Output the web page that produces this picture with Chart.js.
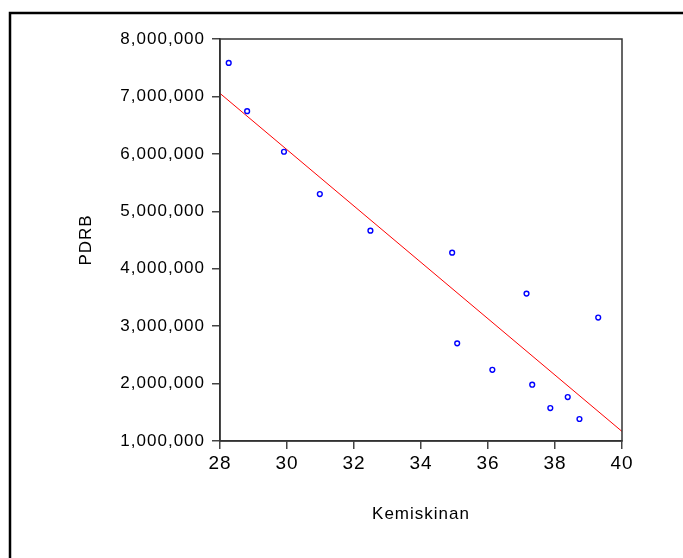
<!DOCTYPE html>
<html>
    <head>
        <title>PDRB vs Kemiskinan</title>
        <meta charset="UTF-8">
        <style>
            html, body { margin: 0; padding: 0; background: #fff; }
        </style>
    </head>
    <body>

        <canvas id="myChart" width="683" height="558"></canvas>

        <script src="https://cdn.jsdelivr.net/npm/chart.js@4"></script>
        <script>

            // observations: poverty rate (%) and regional GDP
            var kemiskinan = [28.26, 28.81, 29.91, 30.98, 32.49, 34.93, 35.08, 36.13,
                37.15, 37.32, 37.86, 38.38, 38.73, 39.29];
            var pdrb = [7584000, 6744000, 6037000, 5300000, 4663000, 4280000, 2700000, 2240000,
                3567000, 1980000, 1574000, 1765000, 1383000, 3150000];

            var xTicks = [28, 30, 32, 34, 36, 38, 40];
            var yTicks = [1000000, 2000000, 3000000, 4000000, 5000000, 6000000, 7000000, 8000000];

            // least squares fit line
            function fitLine(xs, ys) {
                var n = xs.length, mx = 0, my = 0;
                for (var i = 0; i < n; i++) { mx += xs[i]; my += ys[i]; }
                mx /= n; my /= n;
                var sxy = 0, sxx = 0;
                for (var i = 0; i < n; i++) {
                    sxy += (xs[i] - mx) * (ys[i] - my);
                    sxx += (xs[i] - mx) * (xs[i] - mx);
                }
                var b = sxy / sxx;
                return { a: my - b * mx, b: b };
            }

            var fit = fitLine(kemiskinan, pdrb);
            var xMin = xTicks[0], xMax = xTicks[xTicks.length - 1];

            var points = [];
            for (var i in kemiskinan) {
                points.push({ x: kemiskinan[i], y: pdrb[i] });
            }
            var fitPoints = [
                { x: xMin, y: fit.a + fit.b * xMin },
                { x: xMax, y: fit.a + fit.b * xMax }
            ];
//------------------------------------------------------------------------------
            // frame lines + box around the plot
            var framePlugin = {
                id: 'frame',
                beforeDraw: function (chart) {
                    var ctx = chart.ctx;
                    ctx.letterSpacing = '1px';
                    ctx.save();
                    ctx.strokeStyle = '#000';
                    ctx.lineWidth = 2.5;
                    ctx.beginPath();
                    ctx.moveTo(10, 560);
                    ctx.lineTo(10, 13);
                    ctx.lineTo(690, 13);
                    ctx.stroke();
                    ctx.restore();
                },
                afterDraw: function (chart) {
                    var ctx = chart.ctx, a = chart.chartArea;
                    ctx.save();
                    ctx.strokeStyle = '#333';
                    ctx.lineWidth = 1.5;
                    ctx.strokeRect(a.left, a.top, a.right - a.left, a.bottom - a.top);
                    ctx.restore();
                }
            };

            var font = { family: "'Liberation Sans', Arial, sans-serif", size: 17 };

            var ctx = document.getElementById("myChart");
            var myChart = new Chart(ctx, {
                type: 'scatter',
                data: {
                    datasets: [
                        {
                            data: points,
                            pointRadius: 2.4,
                            pointBorderWidth: 1.4,
                            pointBorderColor: '#0000ff',
                            pointBackgroundColor: '#ffffff',
                            showLine: false
                        },
                        {
                            type: 'line',
                            data: fitPoints,
                            borderColor: '#ff0000',
                            borderWidth: 1,
                            pointRadius: 0,
                            fill: false
                        }
                    ]
                },
                options: {
                    responsive: false,
                    animation: false,
                    layout: { padding: { left: 76, right: 61, top: 39, bottom: 32 } },
                    plugins: {
                        legend: { display: false },
                        tooltip: { enabled: false }
                    },
                    scales: {
                        x: {
                            type: 'linear',
                            min: xMin,
                            max: xMax,
                            afterFit: function (scale) { scale.height = 85; },
                            afterBuildTicks: function (scale) {
                                scale.ticks = xTicks.map(function (v) { return { value: v }; });
                            },
                            grid: { drawOnChartArea: false, tickLength: 8, color: '#444', lineWidth: 1.5 },
                            border: { display: true, color: '#333', width: 1.5 },
                            ticks: {
                                color: '#000',
                                padding: 3,
                                maxRotation: 0,
                                font: { family: font.family, size: 19 }
                            },
                            title: {
                                display: true,
                                text: 'Kemiskinan',
                                color: '#000',
                                font: font,
                                padding: { top: 0, bottom: 1.5 }
                            }
                        },
                        y: {
                            type: 'linear',
                            min: yTicks[0],
                            max: yTicks[yTicks.length - 1],
                            afterFit: function (scale) { scale.width = 144; },
                            afterBuildTicks: function (scale) {
                                scale.ticks = yTicks.map(function (v) { return { value: v }; });
                            },
                            grid: { drawOnChartArea: false, tickLength: 8, color: '#444', lineWidth: 1.5 },
                            border: { display: true, color: '#333', width: 1.5 },
                            ticks: {
                                color: '#000',
                                padding: 7,
                                font: font,
                                callback: function (v) { return v.toLocaleString('en-US'); }
                            },
                            title: {
                                display: true,
                                text: 'PDRB',
                                color: '#000',
                                font: font,
                                padding: { top: 0, bottom: 0 }
                            }
                        }
                    }
                },
                plugins: [framePlugin]
            });

        </script>
    </body>
</html>
